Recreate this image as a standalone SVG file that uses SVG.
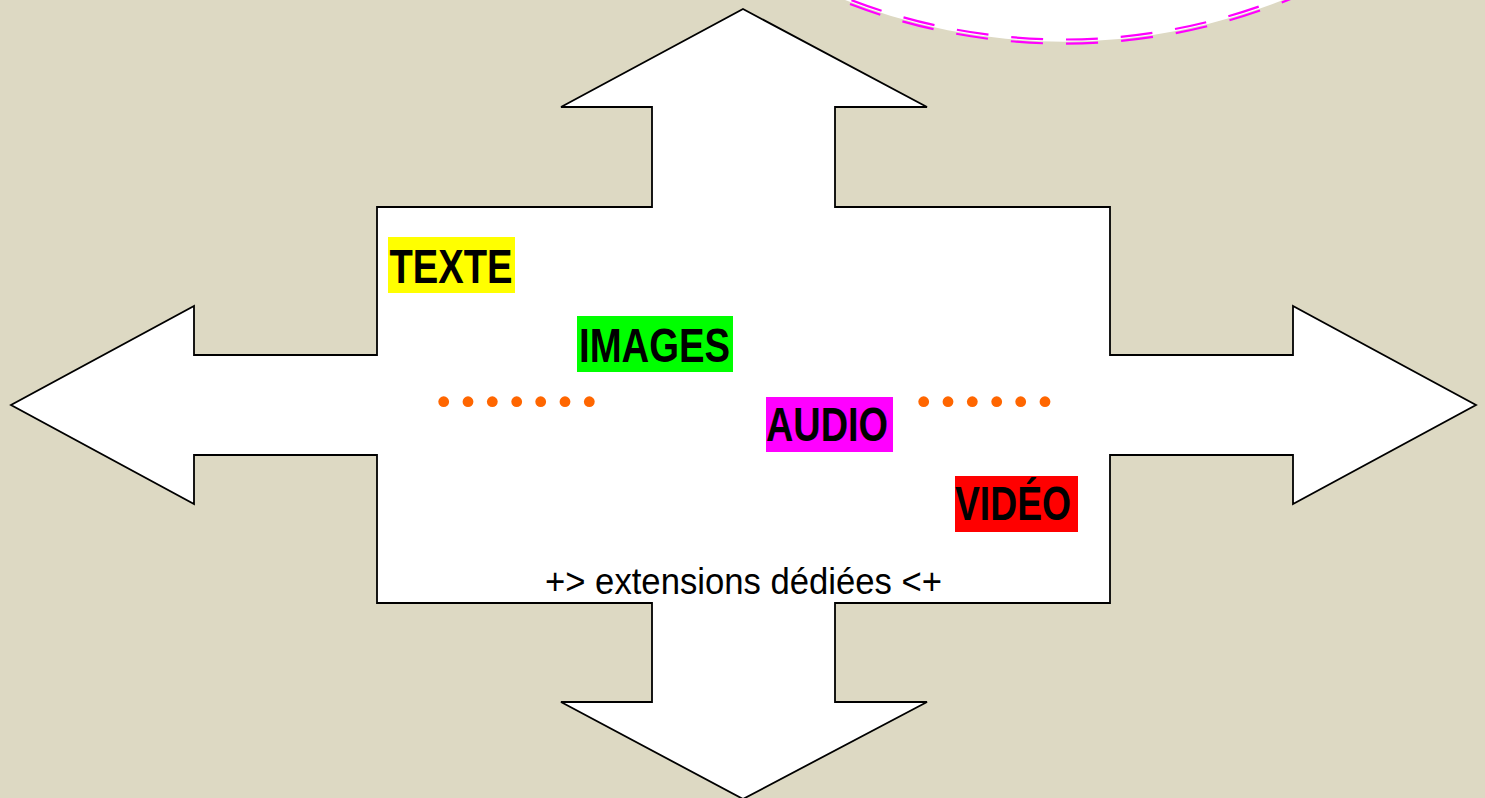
<svg xmlns="http://www.w3.org/2000/svg" width="1485" height="798" viewBox="0 0 1485 798">
  <style>
    .lbl { font-family: "Liberation Sans", Arial, sans-serif; font-weight: bold; font-size: 48px; fill: #000; }
    .note { font-family: "Liberation Sans", Arial, sans-serif; font-size: 36px; fill: #000; }
    .dot { fill: #ff6600; }
    .ring { fill: none; stroke: #ff00ff; stroke-width: 2.2; stroke-dasharray: 32 23; stroke-dashoffset: -21; }
  </style>
  <rect id="background" x="0" y="0" width="1485" height="798" fill="#ddd9c3"/>

  <g id="circle">
    <circle cx="1064" cy="-554" r="595.7" fill="#ffffff"/>
    <circle class="ring" cx="1064" cy="-554" r="593.5" pathLength="3740"/>
    <circle class="ring" cx="1064" cy="-554" r="597.6" pathLength="3740"/>
  </g>

  <g id="cross-arrow">
    <polygon points="743,9 927,107 835,107 835,207 1110,207 1110,355 1293,355 1293,306 1476,405 1293,504 1293,455 1110,455 1110,603 835,603 835,702 927,702 743,799 561,702 652,702 652,603 377,603 377,455 194,455 194,504 11,405 194,306 194,355 377,355 377,207 652,207 652,107 561,107" fill="#ffffff" stroke="#000000" stroke-width="1.8" stroke-linejoin="miter"/>
  </g>

  <g id="label-texte">
    <rect x="388" y="237" width="127" height="56" fill="#ffff00"/>
    <text class="lbl" x="389.5" y="283" textLength="123" lengthAdjust="spacingAndGlyphs">TEXTE</text>
  </g>
  <g id="label-images">
    <rect x="577" y="316" width="156" height="56" fill="#00ff00"/>
    <text class="lbl" x="579" y="362" textLength="151" lengthAdjust="spacingAndGlyphs">IMAGES</text>
  </g>
  <g id="label-audio">
    <rect x="766" y="397" width="127" height="55" fill="#ff00ff"/>
    <text class="lbl" x="766" y="441" textLength="122" lengthAdjust="spacingAndGlyphs">AUDIO</text>
  </g>
  <g id="label-video">
    <rect x="955" y="476" width="123" height="56" fill="#ff0000"/>
    <text class="lbl" x="955" y="520" textLength="116" lengthAdjust="spacingAndGlyphs">VIDÉO</text>
  </g>

  <g id="dots-left">
    <circle class="dot" cx="443.7" cy="401.7" r="5.4"/>
    <circle class="dot" cx="468" cy="401.7" r="5.4"/>
    <circle class="dot" cx="492.3" cy="401.7" r="5.4"/>
    <circle class="dot" cx="516.7" cy="401.7" r="5.4"/>
    <circle class="dot" cx="540.7" cy="401.7" r="5.4"/>
    <circle class="dot" cx="565" cy="401.7" r="5.4"/>
    <circle class="dot" cx="589.3" cy="401.7" r="5.4"/>
  </g>
  <g id="dots-right">
    <circle class="dot" cx="923.7" cy="401.7" r="5.4"/>
    <circle class="dot" cx="948" cy="401.7" r="5.4"/>
    <circle class="dot" cx="972.3" cy="401.7" r="5.4"/>
    <circle class="dot" cx="996.7" cy="401.7" r="5.4"/>
    <circle class="dot" cx="1020.7" cy="401.7" r="5.4"/>
    <circle class="dot" cx="1045" cy="401.7" r="5.4"/>
  </g>

  <g id="note">
    <text class="note" x="545" y="594" textLength="397" lengthAdjust="spacingAndGlyphs">+&gt; extensions dédiées &lt;+</text>
  </g>
  <g id="connectors"/>
</svg>
